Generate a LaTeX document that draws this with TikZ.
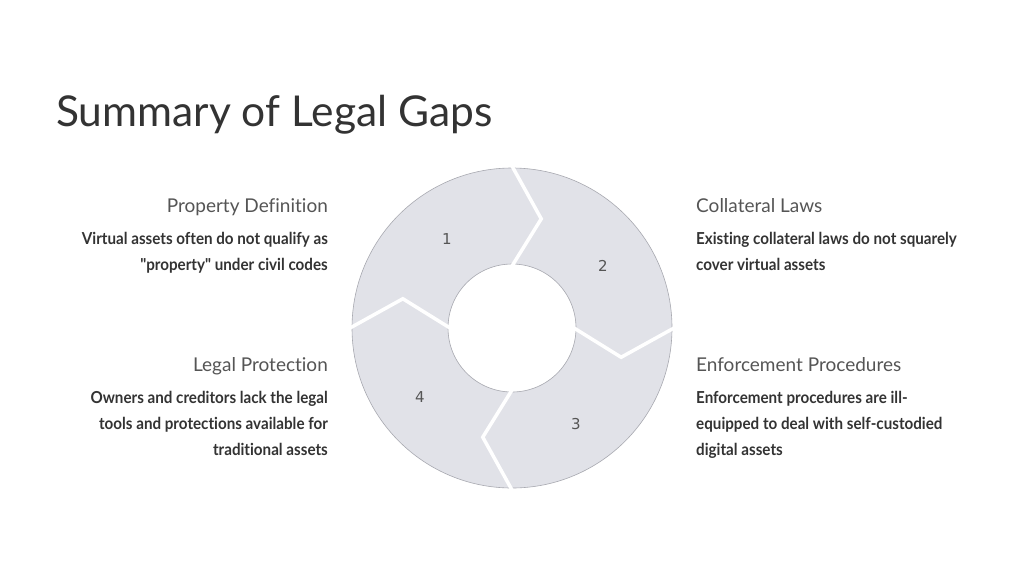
\documentclass[tikz,border=0pt]{standalone}
\usepackage{fontspec}
\usetikzlibrary{calc}
\setmainfont[Ligatures=NoCommon]{Lato}
\newfontfamily\bodyf[FakeStretch=0.92,Ligatures=NoCommon]{Lato Bold}
\newfontfamily\numf{DejaVu Sans}
\definecolor{ringfill}{HTML}{E1E2E8}
\definecolor{ringline}{HTML}{A8A9B0}
\definecolor{headc}{HTML}{555555}
\definecolor{bodyc}{HTML}{333333}
\tikzset{
  head/.style={font=\fontsize{19}{22}\selectfont, text=headc, inner sep=0},
  bodyl/.style={font=\bodyf\fontsize{16.5}{26}\selectfont, text=bodyc, inner sep=0, align=left},
  bodyr/.style={font=\bodyf\fontsize{16.5}{26}\selectfont, text=bodyc, inner sep=0, align=right},
  num/.style={font=\numf\fontsize{15}{15}\selectfont, text=headc},
  gap/.style={draw=white, line width=3.5pt, line join=miter}
}
\begin{document}
\begin{tikzpicture}[x=1pt,y=-1pt]
\useasboundingbox (0,0) rectangle (1024,576);
\fill[white] (0,0) rectangle (1024,576);
\node[anchor=base west, inner sep=0, font=\fontsize{42.5}{46}\selectfont, text=bodyc] (title) at (56,126) {Summary of Legal Gaps};
% ring
\coordinate (c) at (512,328);
\fill[ringfill, even odd rule, draw=ringline, line width=0.6pt] (c) circle[radius=160] (c) circle[radius=64];
\foreach \a in {90,0,-90,180}{
  \draw[gap] ($(c)+(\a:162 and -162)$) -- ($(c)+(\a-15:113 and -113)$) -- ($(c)+(\a:62 and -62)$);
}
\node[num] (n1) at (447,239) {1};
\node[num] (n2) at (603,266) {2};
\node[num] (n3) at (576,424) {3};
\node[num] (n4) at (420,397) {4};
% texts
\node[head, anchor=base east] (h1) at (328,212) {Property Definition};
\node[bodyr, anchor=north east] (b1) at (328,232) {Virtual assets often do not qualify as\\"property" under civil codes};
\node[head, anchor=base west] (h2) at (696,212) {Collateral Laws};
\node[bodyl, anchor=north west] (b2) at (696,232) {Existing collateral laws do not squarely\\cover virtual assets};
\node[head, anchor=base east] (h4) at (328,371) {Legal Protection};
\node[bodyr, anchor=north east] (b4) at (328,391) {Owners and creditors lack the legal\\tools and protections available for\\traditional assets};
\node[head, anchor=base west] (h3) at (696,371) {Enforcement Procedures};
\node[bodyl, anchor=north west] (b3) at (696,391) {Enforcement procedures are ill-\\equipped to deal with self-custodied\\digital assets};
\end{tikzpicture}
\end{document}
